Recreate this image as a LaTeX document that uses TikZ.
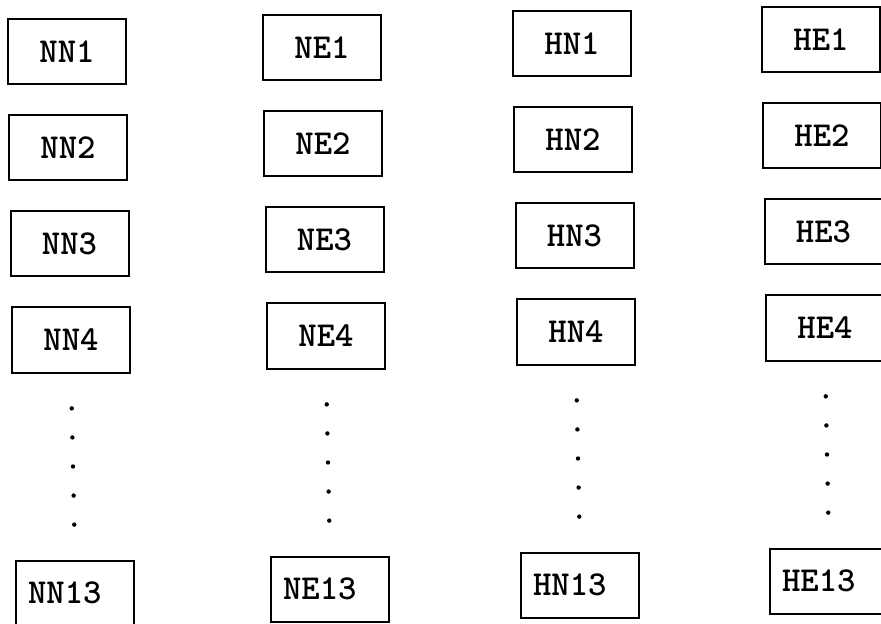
\documentclass[tikz,border=0pt]{standalone}
\usepackage{fontspec}
\usetikzlibrary{calc}

\begin{document}
\begin{tikzpicture}[
  % one unit is one pixel of the 881 x 624 scan, y runs downwards
  x=0.5pt, y=-0.5pt, font=\ttfamily\bfseries\fontsize{17.5}{20}\selectfont,
  cell/.style={draw, line width=1pt, minimum width=59pt, minimum height=32.5pt, inner sep=0pt},
  lastcell/.style={cell, align=left, text width=47pt, inner xsep=6pt},
  dot/.style={fill=black},
]
\useasboundingbox (0,0) rectangle (881,624);
% four columns of boxes, rows 1 to 4
\foreach \c/\cx/\cy in {NN/67/52, NE/322/48, HN/572/44, HE/821/40} {
  \foreach \r/\dx/\dy in {1/0/0, 2/1/96, 3/2.5/192, 4/4/288}
    \node[cell] (\c\r) at ({\cx+\dx},{\cy+\dy}) {\c\r};
  % last row
  \node[lastcell] (\c13) at ({\cx+8},{\cy+541}) {\c13};
  % the rows left out
  \foreach \k in {1,...,5}
    \fill[dot] ($(\c4.south)!{(\k+0.2)/6.4}!(\c13.north)$) circle (2.2);
}
\end{tikzpicture}
\end{document}
